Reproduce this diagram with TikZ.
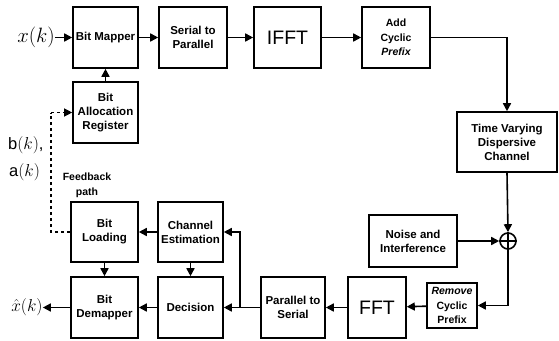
\documentclass[tikz,border=0pt]{standalone}
\usepackage{fontspec}
\setmainfont{Liberation Sans}
\usetikzlibrary{arrows.meta,calc}
\tikzset{
  blk/.style={draw,line width=1.6pt,align=center,inner sep=1pt,font=\fontsize{11.5}{14}\selectfont\bfseries},
  big/.style={draw,line width=1.6pt,align=center,inner sep=1pt,font=\fontsize{19.5}{20}\selectfont},
  arr/.style={line width=1.6pt,-{Triangle[length=8pt,width=8pt]}},
  lbl/.style={inner sep=0pt,font=\fontsize{20}{22}\selectfont},
  lbls/.style={inner sep=0pt,font=\fontsize{16.5}{18}\selectfont},
}
\begin{document}
\begin{tikzpicture}[x=1pt,y=-1pt]
\useasboundingbox (0,0) rectangle (559,340);
% top row
\node[blk,minimum width=65pt,minimum height=61pt] (bm) at (105.5,37.5) {Bit Mapper};
\node[blk,minimum width=68pt,minimum height=61pt] (sp) at (193,37.5) {Serial to\\Parallel};
\node[big,minimum width=67pt,minimum height=61pt] (ifft) at (287.5,37.5) {IFFT};
\node[blk,minimum width=68pt,minimum height=61pt,font=\fontsize{10.5}{14.5}\selectfont\bfseries] (acp) at (396,37.5) {Add\\Cyclic\\\itshape Prefix};
\node[blk,minimum width=100pt,minimum height=60pt] (tvd) at (507,142) {Time Varying\\Dispersive\\Channel};
\node[blk,minimum width=65pt,minimum height=61pt] (bar) at (105.5,112.5) {Bit\\Allocation\\Register};
% middle
\node[blk,minimum width=88pt,minimum height=52pt] (noise) at (413,241) {Noise and\\Interference};
\node[draw,circle,line width=1.6pt,minimum size=16pt,inner sep=0pt] (sum) at (508,241) {};
\draw[line width=1.6pt] (sum.north) -- (sum.south) (sum.west) -- (sum.east);
% bottom row
\node[blk,minimum width=50pt,minimum height=45pt,font=\fontsize{10.5}{14.5}\selectfont\bfseries] (rcp) at (452,305.5) {\itshape Remove\\Cyclic\\Prefix};
\node[big,minimum width=58pt,minimum height=61pt] (fft) at (377,307.5) {FFT};
\node[blk,minimum width=64pt,minimum height=61pt] (ps) at (293,307.5) {Parallel to\\Serial};
\node[blk,minimum width=65pt,minimum height=61pt] (dec) at (190.5,307.5) {Decision};
\node[blk,minimum width=67pt,minimum height=61pt] (bd) at (104.5,307.5) {Bit\\Demapper};
\node[blk,minimum width=67pt,minimum height=60pt] (bl) at (104.5,232) {Bit\\Loading};
\node[blk,minimum width=65pt,minimum height=60pt] (ce) at (190.5,232) {Channel\\Estimation};
% labels
\node[lbl] (xin) at (36,37.5) {$x(k)$};
\node[lbl,font=\fontsize{18.5}{20}\selectfont] (xout) at (27,307.5) {$\hat{x}(k)$};
\node[lbls,anchor=west] (bk) at (8,145) {$\mathrm{b}(k)$,};
\node[lbls,anchor=west] (ak) at (9,172) {$\mathrm{a}(k)$};
\node[inner sep=0pt,align=center,font=\fontsize{10.5}{15}\selectfont\bfseries] (fb) at (87,185.5) {Feedback\\path};
\coordinate (fbb) at (51,232);
\coordinate (fbt) at (51,112.5);
\coordinate (br) at (240,307.5);
% connectors
\draw[arr] (xin) -- (bm);
\draw[arr] (bm) -- (sp);
\draw[arr] (sp) -- (ifft);
\draw[arr] (ifft) -- (acp);
\draw[arr] (acp.east) -| (tvd.north);
\draw[arr] (bar) -- (bm);
\draw[arr] (tvd.south) -- (sum.north);
\draw[arr] (noise) -- (sum);
\draw[arr] (sum.south) |- (rcp.east);
\draw[arr] (rcp) -- (fft);
\draw[arr] (fft) -- (ps);
\draw[arr] (ps) -- (dec);
\draw[arr] (br) |- (ce.east);
\draw[arr] (dec) -- (bd);
\draw[arr] (bd) -- (xout);
\draw[arr] (ce) -- (bl);
\draw[arr] (ce) -- (dec);
\draw[arr] (bl) -- (bd);
\draw[line width=1.2pt,dashed] (bl.west) -- (fbb) -- (fbt);
\draw[line width=1.2pt,dashed,-{Triangle[length=8pt,width=8pt]}] (fbt) -- (bar.west);
\end{tikzpicture}
\end{document}
